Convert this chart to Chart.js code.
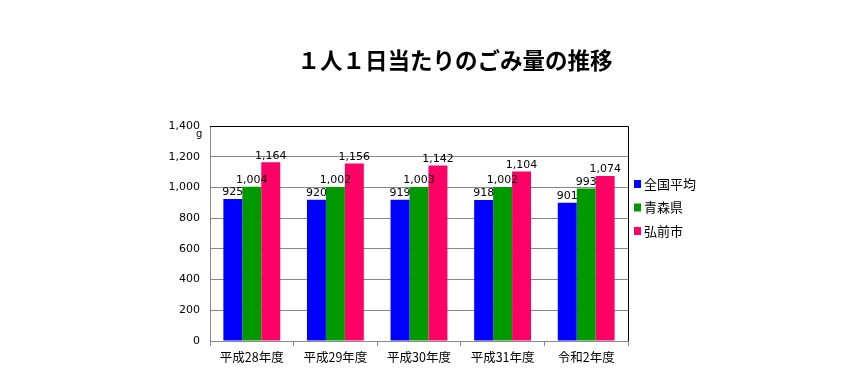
<!DOCTYPE html>
<html><head><meta charset="utf-8">
<script src="https://cdn.jsdelivr.net/npm/chart.js@4/dist/chart.umd.min.js"></script>
<style>html,body{margin:0;padding:0;background:#fff}#wrap{width:862px;height:374px}</style>
</head><body><div id="wrap"><canvas id="c" width="862" height="374"></canvas></div>
<script>
const title = '１人１日当たりのごみ量の推移';
const unitLabel = 'g';
const categories = ['平成28年度','平成29年度','平成30年度','平成31年度','令和2年度'];
const seriesNames = ['全国平均','青森県','弘前市'];
const nationalAvg = [925, 920, 919, 918, 901];
const aomoriPref = [1004, 1002, 1003, 1002, 993];
const hirosakiCity = [1164, 1156, 1142, 1104, 1074];
const colors = ['#0000FF', '#009900', '#FF0066'];
const yMax = 1400, yStep = 200;

const numFont = '11px "DejaVu Sans", "Noto Sans CJK JP", sans-serif';

const extras = {
  id: 'extras',
  afterDraw(chart) {
    const ctx = chart.ctx, a = chart.chartArea, ys = chart.scales.y;
    ctx.save();
    ctx.strokeStyle = '#000'; ctx.lineWidth = 1;
    ctx.beginPath();
    ctx.moveTo(a.left, a.top + 0.5); ctx.lineTo(a.right + 0.5, a.top + 0.5);
    ctx.lineTo(a.right + 0.5, a.bottom);
    ctx.stroke();
    ctx.fillStyle = '#000';
    ctx.font = 'bold 22.5px "Noto Sans CJK JP", sans-serif';
    ctx.textAlign = 'center'; ctx.textBaseline = 'middle';
    ctx.fillText(title, 455, 60);
    ctx.font = '10px "DejaVu Sans", sans-serif';
    ctx.textAlign = 'left';
    ctx.fillText(unitLabel, 196, ys.getPixelForValue(yMax) + 8);
    ctx.font = numFont; ctx.textAlign = 'center'; ctx.textBaseline = 'bottom';
    chart.data.datasets.forEach((ds, i) => {
      chart.getDatasetMeta(i).data.forEach((bar, j) => {
        ctx.fillText(ds.data[j].toLocaleString('en-US'), bar.x, bar.y - 1);
      });
    });
    ctx.textBaseline = 'middle';
    ctx.font = '13px "Noto Sans CJK JP", sans-serif';
    chart.data.datasets.forEach((ds, i) => {
      const y = 184 + i * 23.5;
      ctx.fillStyle = ds.backgroundColor;
      ctx.fillRect(634, y - 4, 7, 8);
      ctx.fillStyle = '#000';
      ctx.textAlign = 'left';
      ctx.fillText(ds.label, 644, y);
    });
    ctx.restore();
  }
};

new Chart(document.getElementById('c'), {
  type: 'bar',
  data: {
    labels: categories,
    datasets: [nationalAvg, aomoriPref, hirosakiCity].map((d, i) => ({
      label: seriesNames[i], data: d, backgroundColor: colors[i],
      categoryPercentage: 0.68, barPercentage: 1.0, borderWidth: 0
    }))
  },
  options: {
    responsive: false, animation: false,
    layout: { padding: { left: 150, right: 234, top: 126, bottom: 0 } },
    plugins: { legend: { display: false }, title: { display: false }, tooltip: { enabled: false } },
    scales: {
      y: {
        min: 0, max: yMax,
        ticks: { stepSize: yStep, color: '#000', font: { family: '"DejaVu Sans", sans-serif', size: 11 }, padding: 10,
          callback: v => v.toLocaleString('en-US') },
        grid: { color: '#888', drawTicks: false },
        border: { color: '#888' },
        afterFit: s => { s.width = 60; }
      },
      x: {
        ticks: { color: '#000', font: { family: '"Noto Sans CJK JP", sans-serif', size: 12.5 }, padding: 4 },
        grid: { display: true, drawOnChartArea: false, offset: true, tickLength: 5, color: '#888' },
        border: { color: '#888' },
        afterFit: s => { s.height = 33; }
      }
    }
  },
  plugins: [extras]
});
</script>
</body></html>
